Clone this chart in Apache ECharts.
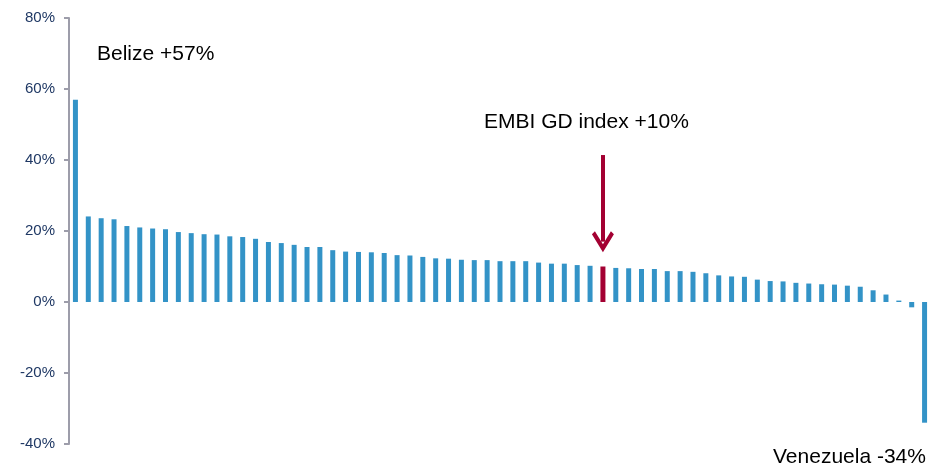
<!DOCTYPE html>
<html>
<head>
<meta charset="utf-8">
<script src="https://cdn.jsdelivr.net/npm/echarts@6/dist/echarts.min.js"></script>
<style>
  html, body { margin: 0; padding: 0; background: #fff; }
  #chart { width: 944px; height: 470px; }
</style>
</head>
<body>
<div id="chart"></div>
<script>
// Total return by country, sorted from best to worst, with the index highlighted
const returns = [
  57, 24.1, 23.6, 23.3, 21.4, 21.0, 20.7, 20.5, 19.7, 19.4,
  19.1, 19.0, 18.5, 18.3, 17.8, 16.9, 16.6, 16.1, 15.5, 15.5,
  14.6, 14.2, 14.1, 14.0, 13.8, 13.2, 13.1, 12.7, 12.3, 12.2,
  11.9, 11.8, 11.8, 11.5, 11.5, 11.5, 11.1, 10.8, 10.8, 10.4,
  10.2, 10.0, 9.6, 9.5, 9.3, 9.3, 8.7, 8.7, 8.5, 8.1,
  7.5, 7.2, 7.1, 6.3, 5.9, 5.8, 5.4, 5.2, 5.0, 4.9,
  4.6, 4.3, 3.3, 2.1, 0.4, -1.5, -34
];
const namedPositions = { 0: 'Belize', 41: 'EMBI GD', 66: 'Venezuela' };
const categories = returns.map((_, i) => namedPositions[i] || 'EM' + (i + 1));
const indexCategory = 'EMBI GD';
const yTicks = [-40, -20, 0, 20, 40, 60, 80];

// Arrow pointing at the index bar (in data units on the value axis)
const arrowFrom = 41.4;
const arrowTo = 17.0;

const BLUE = '#3393C7';
const RED = '#A30032';

const chart = echarts.init(document.getElementById('chart'), null, { renderer: 'canvas' });

chart.setOption({
  animation: false,
  backgroundColor: '#fff',
  grid: { left: 69, right: 13, top: 18, bottom: 26, containLabel: false },
  xAxis: {
    type: 'category',
    data: categories,
    axisLine: { show: false },
    axisTick: { show: false },
    axisLabel: { show: false },
    splitLine: { show: false }
  },
  yAxis: {
    type: 'value',
    min: yTicks[0],
    max: yTicks[yTicks.length - 1],
    interval: 20,
    axisLine: { show: true, lineStyle: { color: '#9d9daa', width: 2 } },
    axisTick: { show: true, length: 5, lineStyle: { color: '#9d9daa', width: 2 } },
    splitLine: { show: false },
    axisLabel: {
      margin: 14,
      color: '#1F3864',
      fontFamily: 'Liberation Sans, Arial, sans-serif',
      fontSize: 15,
      formatter: v => v + '%'
    }
  },
  series: [{
    type: 'bar',
    barWidth: 5,
    data: returns.map((v, i) => categories[i] === indexCategory
      ? { value: v, itemStyle: { color: RED } }
      : v),
    itemStyle: { color: BLUE },
    markLine: {
      silent: true,
      symbol: ['none', 'path://M11,0 L22,18 L19,21 L11,8 L3,21 L0,18 Z'],
      symbolSize: [22, 21],
      label: { show: false },
      lineStyle: { color: RED, width: 4, type: 'solid' },
      data: [[
        { coord: [indexCategory, arrowFrom] },
        { coord: [indexCategory, arrowTo] }
      ]]
    }
  }],
  graphic: [
    {
      type: 'text', left: 97, top: 44,
      style: { text: 'Belize +57%', fill: '#000', font: '21px "Liberation Sans", Arial, sans-serif' }
    },
    {
      type: 'text', left: 484, top: 112,
      style: { text: 'EMBI GD index +10%', fill: '#000', font: '21px "Liberation Sans", Arial, sans-serif' }
    },
    {
      type: 'text', left: 773, top: 447,
      style: { text: 'Venezuela -34%', fill: '#000', font: '21px "Liberation Sans", Arial, sans-serif' }
    }
  ]
});
</script>
</body>
</html>
